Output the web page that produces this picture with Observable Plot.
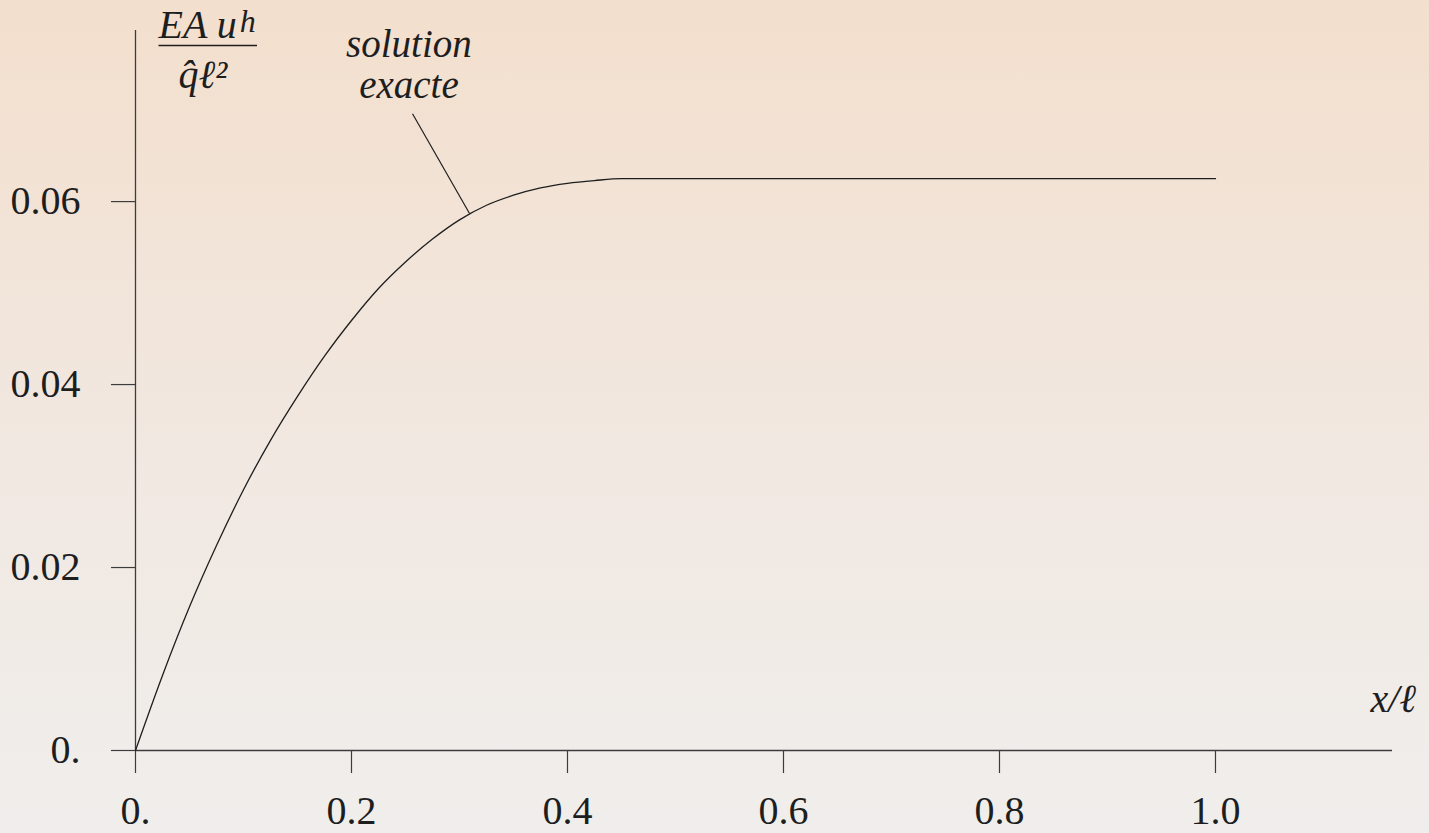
<!DOCTYPE html>
<html>
<head>
<meta charset="utf-8">
<script src="https://cdn.jsdelivr.net/npm/d3@7"></script>
<script src="https://cdn.jsdelivr.net/npm/@observablehq/plot@0.6"></script>
<style>
  html, body { margin: 0; padding: 0; }
  body {
    width: 1429px; height: 833px; overflow: hidden;
    background: linear-gradient(to bottom, #f3dfcd 0%, #f1e8e1 55%, #f0eeec 100%);
  }
  #chart svg { display: block; }
</style>
</head>
<body>
<div id="chart"></div>
<script>
// Exact solution: normalised displacement EA·u / (q̂ℓ²) along the bar
const xPos   = [0, 0.025, 0.05, 0.075, 0.1, 0.125, 0.15, 0.175, 0.2, 0.225, 0.25, 0.275,
                0.3, 0.325, 0.35, 0.375, 0.4, 0.425, 0.45, 0.5, 1.0];
const uExact = [0, 0.0082, 0.0157, 0.0224, 0.0285, 0.0339, 0.0387, 0.0431, 0.0470, 0.0505, 0.0534, 0.0559,
                0.0580, 0.0596, 0.0607, 0.0615, 0.0620, 0.0623, 0.0625, 0.0625, 0.0625];

// Axis ticks and their printed labels
const xTicks = [0, 0.2, 0.4, 0.6, 0.8, 1.0];
const xTickLabels = ["0.", "0.2", "0.4", "0.6", "0.8", "1.0"];
const yTicks = [0, 0.02, 0.04, 0.06];
const yTickLabels = ["0.", "0.02", "0.04", "0.06"];

const curveLabel = "solution\nexacte";

const data = xPos.map((x, i) => ({x, u: uExact[i]}));
const serif = "'Liberation Serif', 'Times New Roman', serif";
const ink = "#1e1e1e";
const axisInk = "#3c3c3c";

const chart = Plot.plot({
  width: 1429,
  height: 833,
  marginLeft: 135,
  marginRight: 37,
  marginTop: 30,
  marginBottom: 83,
  x: {domain: [0, 1.1639]},
  y: {domain: [0, 0.0787]},
  style: {background: "transparent", fontFamily: serif, color: ink},
  marks: [
    // axis lines crossing at the origin
    Plot.ruleY([0], {stroke: axisInk, strokeWidth: 1.3}),
    Plot.ruleX([0], {stroke: axisInk, strokeWidth: 1.3}),
    Plot.axisX({
      ticks: xTicks, tickSize: 23, tickPadding: 22, fontSize: 40,
      tickFormat: d => xTickLabels[xTicks.indexOf(d)],
      stroke: axisInk, strokeWidth: 1.2, fill: ink, label: null
    }),
    Plot.axisY({
      ticks: yTicks, tickSize: 24, tickPadding: 31, fontSize: 40,
      tickFormat: d => yTickLabels[yTicks.indexOf(d)],
      stroke: axisInk, strokeWidth: 1.2, fill: ink, label: null
    }),
    // the curve
    Plot.line(data, {x: "x", y: "u", curve: "monotone-x", stroke: ink, strokeWidth: 1.3}),
    // curve annotation with leader line
    Plot.text([curveLabel], {x: 0.2532, y: 0.07137, text: d => d, textAnchor: "middle", lineAnchor: "bottom",
      lineHeight: 1.05, fontSize: 39, fontStyle: "italic", fill: ink}),
    Plot.link([{x1: 0.2565, y1: 0.0696, x2: 0.3093, y2: 0.0587}],
      {x1: "x1", y1: "y1", x2: "x2", y2: "y2", stroke: ink, strokeWidth: 1.2}),
    // vertical axis title: EA u^h over q̂ℓ²
    Plot.text(["EA u"], {x: 0.0213, y: 0.07792, text: d => d, textAnchor: "start", lineAnchor: "bottom",
      fontSize: 40, fontStyle: "italic", fill: ink}),
    Plot.text(["h"], {x: 0.0965, y: 0.07858, text: d => d, textAnchor: "start", lineAnchor: "bottom",
      fontSize: 32, fontStyle: "italic", fill: ink}),
    Plot.link([{x1: 0.0213, x2: 0.1125, y: 0.07705}],
      {x1: "x1", x2: "x2", y1: "y", y2: "y", stroke: ink, strokeWidth: 1.5}),
    Plot.text(["q\u0302\u2113\u00b2"], {x: 0.0398, y: 0.07246, text: d => d, textAnchor: "start", lineAnchor: "bottom",
      fontSize: 40, fontStyle: "italic", fill: ink}),
    // horizontal axis title
    Plot.text(["x/ℓ"], {x: 1.1435, y: 0.00426, text: d => d, textAnchor: "start", lineAnchor: "bottom",
      fontSize: 40, fontStyle: "italic", fill: ink})
  ]
});

document.getElementById("chart").appendChild(chart);
</script>
</body>
</html>
